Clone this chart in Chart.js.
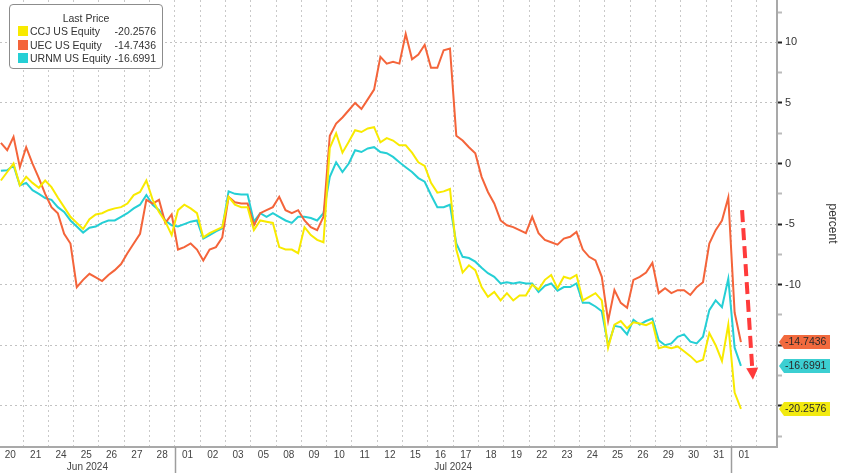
<!DOCTYPE html>
<html lang="en">
<head>
<meta charset="UTF-8">
<title>Uranium names, last price</title>
<script src="https://cdn.jsdelivr.net/npm/chart.js"></script>
<style>
    body { margin: 0; background: #fff; }
    #wrap { position: relative; width: 848px; height: 473px; }
    .legend {
        position: absolute; left: 9px; top: 4px; width: 152px; height: 63px;
        border: 1px solid #8c8c8c; border-radius: 4px; background: #fff;
        font-family: 'Liberation Sans', Arial, sans-serif; font-size: 10.5px; color: #333;
    }
    .legend .tit { position: absolute; top: 7px; left: 0; width: 100%; text-align: center; }
    .legend .row { position: absolute; left: 0; width: 100%; height: 12px; line-height: 12px; }
    .legend .sw { position: absolute; left: 8px; top: 1px; width: 10px; height: 10px; }
    .legend .nm { position: absolute; left: 20px; }
    .legend .val { position: absolute; right: 6px; }
</style>
</head>
<body>
<div id="wrap">
    <canvas id="myChart"></canvas>
    <div class="legend" id="legend"><div class="tit">Last Price</div></div>
</div>
<script>
    // trading days on the axis (Jun 20 .. Aug 01 2024)
    const dayLabels = ['20','21','24','25','26','27','28','01','02','03','05','08','09','10','11','12','15','16','17','18','19','22','23','24','25','26','29','30','31','01'];
    const monthLabels = ['Jun 2024', 'Jul 2024'];
    const monthStart = [0, 7];
    const monthEnd = [7, 29];
    const pointsPerDay = 4;

    // percent change, 4 readings per day
    const ccj = [
        -1.4, -0.7, 0.0, -1.8,   -1.1, -1.6, -2.0, -1.4,   -1.95, -2.8, -3.6, -4.4,   -4.9, -5.4, -4.6, -4.2,
        -4.1, -3.85, -3.7, -3.6,   -3.3, -2.6, -2.35, -1.4,   -3.0, -4.0, -4.8, -5.9,
        -3.85, -3.4, -3.7, -4.1,   -6.1, -5.75, -5.5, -5.25,   -2.75, -3.4, -3.6, -3.6,   -5.5, -4.7, -4.8, -4.9,
        -6.9, -7.1, -7.1, -7.4,   -5.25, -5.9, -6.3, -6.5,   1.3, 2.5, 0.9, 1.8,   2.75, 2.6, 2.9, 3.0,
        1.75, 2.1, 1.9, 1.5,   1.5, 0.9, 0.1, -0.2,   -1.6, -2.4, -2.3, -2.1,   -7.1, -9.0, -8.4, -8.8,
        -10.2, -11.0, -10.6, -11.3,   -10.7, -11.3, -10.9, -10.9,   -10.0, -10.4, -9.6, -9.2,   -10.3, -9.35, -9.5, -9.2,
        -11.3, -11.0, -10.7, -11.3,   -15.2, -13.3, -13.0, -13.6,   -13.1, -13.2, -13.35, -13.1,   -15.25, -15.1, -15.25, -15.1,
        -15.5, -15.9, -16.4, -16.2,   -14.0, -15.0, -16.3, -13.3,
        -18.9, -20.2576
    ];
    const uec = [
        1.7, 1.1, 2.2, -0.3,   1.35, 0.0, -1.2, -2.5,   -3.6, -4.1, -5.8, -6.6,   -10.2, -9.6, -9.1, -9.4,
        -9.7, -9.2, -8.8, -8.3,   -7.4, -6.6, -5.8, -3.0,   -3.3, -3.0, -4.9, -4.2,
        -7.1, -6.9, -6.6, -7.1,   -8.0, -7.1, -6.9, -6.1,   -2.75, -3.2, -3.3, -3.3,   -5.1, -4.1, -3.85, -3.6,
        -2.75, -3.85, -4.1, -3.85,   -4.7, -5.25, -5.5, -4.4,   2.3, 3.3, 3.8, 4.4,   5.0, 4.5, 5.3, 6.1,
        8.8, 8.25, 8.4, 8.25,   10.7, 8.6, 9.0, 9.8,   7.9, 7.9, 9.35, 9.5,   2.3, 1.9, 1.35, 0.85,
        -1.1, -2.35, -3.3, -4.7,   -5.1, -5.25, -5.5, -5.75,   -4.4, -5.75, -6.3, -6.5,   -6.7, -6.2, -6.05, -5.65,
        -7.1, -7.7, -8.0, -9.35,   -13.0, -10.45, -11.5, -11.9,   -9.6, -9.35, -9.0, -8.2,   -10.7, -10.3, -10.7, -10.45,
        -10.45, -10.85, -10.2, -9.8,   -6.6, -5.5, -4.7, -2.8,
        -12.3, -14.7436
    ];
    const urnm = [
        -0.6, -0.55, -0.15, -1.8,   -1.6, -2.2, -2.5, -2.85,   -3.0, -3.6, -4.0, -4.7,   -5.2, -5.7, -5.3, -5.2,
        -4.9, -4.7, -4.7, -4.4,   -4.1, -3.7, -3.4, -2.6,   -3.4, -3.85, -4.7, -5.1,
        -5.2, -5.0, -4.8, -4.7,   -6.2, -5.9, -5.6, -5.35,   -2.3, -2.5, -2.55, -2.55,   -4.8, -4.1, -4.4, -4.1,
        -4.4, -4.7, -4.9, -4.4,   -4.4, -4.5, -4.7, -4.1,   -1.1, 0.1, -0.7, 0.0,   1.1, 0.95, 1.25, 1.35,
        0.95, 0.85, 0.55, 0.1,   -0.3, -0.7, -1.2, -1.5,   -2.6, -3.6, -3.6, -3.4,   -6.6, -7.7, -7.8, -8.1,
        -8.6, -9.05, -9.35, -9.9,   -9.8, -9.9, -9.8, -9.9,   -9.9, -10.6, -10.1, -9.9,   -10.5, -10.2, -10.2, -9.9,
        -11.5, -11.5, -11.8, -12.2,   -15.0, -13.4, -13.5, -14.1,   -12.9, -13.3, -13.0, -12.8,   -14.6, -15.0, -14.85, -14.3,
        -14.1, -14.7, -14.85, -14.3,   -12.1, -11.3, -11.85, -9.5,
        -15.2, -16.6991
    ];

    const seriesNames = ['CCJ US Equity', 'UEC US Equity', 'URNM US Equity'];
    const seriesData = [ccj, uec, urnm];
    const seriesColors = ['#f8ea00', '#f4643a', '#25cfd5'];
    const tagColors = ['#f2ea10', '#f26a3e', '#3ccfd2'];

    const xMin = 0.09, xMax = 30.8;
    const yMin = -23.4, yMax = 13.5;
    // labels that sit under the last-price tags
    const hiddenYLabels = [-15, -20];

    function dayPos(i) {
        return Math.floor(i / pointsPerDay) + ((i % pointsPerDay) + 0.5) / pointsPerDay;
    }

    // x ticks: day boundaries (grid), day centres (labels), month centres (second line)
    var xTicks = [];
    for (var k = 1; k <= dayLabels.length; k++) xTicks.push({ value: k, kind: 'b', text: '' });
    dayLabels.forEach(function (d, k) { xTicks.push({ value: k + 0.5, kind: 'd', text: d }); });
    monthLabels.forEach(function (m, j) {
        xTicks.push({ value: (Math.max(xMin, monthStart[j]) + monthEnd[j]) / 2, kind: 'm', text: ['', m] });
    });
    xTicks.sort(function (a, b) { return a.value - b.value; });

    // legend
    var legend = document.getElementById('legend');
    seriesNames.forEach(function (n, i) {
        var row = document.createElement('div');
        row.className = 'row';
        row.style.top = (20 + i * 13.7) + 'px';
        var last = seriesData[i][seriesData[i].length - 1];
        row.innerHTML = '<span class="sw" style="background:' + seriesColors[i] + '"></span><span class="nm">' + n +
            '</span><span class="val">' + last.toFixed(4) + '</span>';
        legend.append(row);
    });

    const overlay = {
        id: 'overlay',
        afterDraw(chart) {
            var ctx = chart.ctx, area = chart.chartArea;
            var xs = chart.scales.x, ys = chart.scales.y;
            ctx.save();
            // month separators below the axis
            ctx.strokeStyle = '#9d9d9d';
            ctx.lineWidth = 1.5;
            [monthEnd[0], monthEnd[1]].forEach(function (d) {
                var px = Math.round(xs.getPixelForValue(d)) + 0.5;
                ctx.beginPath();
                ctx.moveTo(px, area.bottom);
                ctx.lineTo(px, chart.height);
                ctx.stroke();
            });
            // last value tags on the axis
            ctx.font = '10.5px "Liberation Sans", Arial, sans-serif';
            ctx.textBaseline = 'middle';
            seriesData.forEach(function (s, i) {
                var last = s[s.length - 1];
                var py = Math.round(ys.getPixelForValue(last));
                var x0 = area.right + 2;
                ctx.fillStyle = tagColors[i];
                ctx.beginPath();
                ctx.moveTo(x0, py);
                ctx.lineTo(x0 + 5, py - 7);
                ctx.lineTo(x0 + 51, py - 7);
                ctx.lineTo(x0 + 51, py + 7);
                ctx.lineTo(x0 + 5, py + 7);
                ctx.closePath();
                ctx.fill();
                ctx.fillStyle = '#2a2a2a';
                ctx.fillText(last.toFixed(4), x0 + 6, py + 0.5);
            });
            // red dashed arrow
            var ax0 = xs.getPixelForValue(29.42), ay0 = ys.getPixelForValue(-3.85);
            var ax1 = xs.getPixelForValue(29.85), ay1 = ys.getPixelForValue(-17.85);
            var ang = Math.atan2(ay1 - ay0, ax1 - ax0);
            var hl = 12;
            var bx = ax1 - Math.cos(ang) * hl, by = ay1 - Math.sin(ang) * hl;
            ctx.strokeStyle = '#ff3b3b';
            ctx.lineWidth = 4;
            ctx.setLineDash([12, 6]);
            ctx.beginPath();
            ctx.moveTo(ax0, ay0);
            ctx.lineTo(bx, by);
            ctx.stroke();
            ctx.setLineDash([]);
            ctx.fillStyle = '#ff3b3b';
            ctx.beginPath();
            ctx.moveTo(ax1, ay1);
            ctx.lineTo(bx + Math.cos(ang + Math.PI / 2) * 6, by + Math.sin(ang + Math.PI / 2) * 6);
            ctx.lineTo(bx - Math.cos(ang + Math.PI / 2) * 6, by - Math.sin(ang + Math.PI / 2) * 6);
            ctx.closePath();
            ctx.fill();
            ctx.restore();
        }
    };

    new Chart(document.getElementById('myChart'), {
        type: 'line',
        data: {
            datasets: seriesData.map(function (s, i) {
                return {
                    label: seriesNames[i],
                    data: s.map(function (v, j) { return { x: dayPos(j), y: v }; }),
                    borderColor: seriesColors[i],
                    backgroundColor: seriesColors[i],
                    borderWidth: 2,
                    pointRadius: 0,
                    tension: 0
                };
            })
        },
        options: {
            responsive: true,
            maintainAspectRatio: false,
            animation: false,
            layout: { padding: 0 },
            plugins: { legend: { display: false }, tooltip: { enabled: false } },
            scales: {
                x: {
                    type: 'linear',
                    min: xMin,
                    max: xMax,
                    afterBuildTicks: function (s) { s.ticks = xTicks.map(function (t) { return Object.assign({}, t); }); },
                    afterFit: function (s) { s.height = 26; s.paddingLeft = 0; s.paddingRight = 0; },
                    ticks: {
                        autoSkip: false, maxRotation: 0, minRotation: 0, padding: 2,
                        color: '#444', font: { size: 10 },
                        callback: function (v, i, t) { return t[i].text; }
                    },
                    grid: {
                        drawTicks: false,
                        color: function (c) { return c.tick && c.tick.kind === 'b' ? '#c9c9c9' : 'rgba(0,0,0,0)'; }
                    },
                    border: { display: true, color: '#a9a9a9', width: 2, dash: [2, 3] }
                },
                y: {
                    position: 'right',
                    min: yMin,
                    max: yMax,
                    afterFit: function (s) { s.width = 71; s.paddingTop = 0; s.paddingBottom = 0; },
                    ticks: {
                        stepSize: 2.5, includeBounds: false, autoSkip: false, padding: 3,
                        color: '#333', font: { size: 11 },
                        callback: function (v) {
                            return v % 5 === 0 && hiddenYLabels.indexOf(v) < 0 ? String(v) : '';
                        }
                    },
                    grid: {
                        drawTicks: true, tickLength: 5, tickWidth: 2,
                        color: function (c) { return c.tick && c.tick.value % 5 === 0 ? '#c2c2c2' : 'rgba(0,0,0,0)'; },
                        tickColor: function (c) { return c.tick && c.tick.value % 5 === 0 ? '#222' : '#bbb'; }
                    },
                    border: { display: true, color: '#a9a9a9', width: 2, dash: [2, 3] },
                    title: { display: true, text: 'percent', color: '#333', font: { size: 12 }, padding: { top: 8, bottom: 4 } }
                }
            }
        },
        plugins: [overlay]
    });
</script>
</body>
</html>
